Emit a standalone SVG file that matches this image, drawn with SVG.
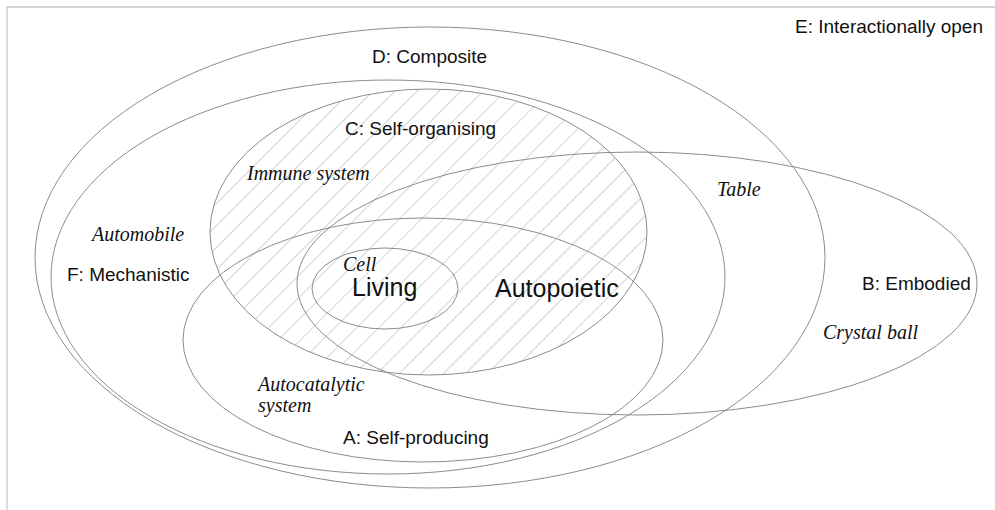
<svg xmlns="http://www.w3.org/2000/svg" width="995" height="510" viewBox="0 0 995 510">
<style>
.set{fill:none;stroke:#8c8c8c;stroke-width:1}
.lab{font-family:"Liberation Sans",Arial,sans-serif;font-size:19px;fill:#111}
.big{font-family:"Liberation Sans",Arial,sans-serif;font-size:25px;fill:#111}
.ex{font-family:"Liberation Serif","Times New Roman",serif;font-style:italic;font-size:20px;fill:#111}
.frame{stroke:#c8c8c8;stroke-width:1.3;fill:none}
</style>
<defs>
<pattern id="hatch" width="15.6" height="10" patternUnits="userSpaceOnUse" patternTransform="rotate(45)">
<line x1="0" y1="-1" x2="0" y2="11" stroke="#a8a8a8" stroke-width="1"/>
</pattern>
</defs>
<rect width="995" height="510" fill="#fff"/>
<path class="frame" d="M7,510 V7 H995"/>
<g id="E">
<text class="lab" x="795" y="33">E: Interactionally open</text>
</g>
<g id="C">
<ellipse cx="428.5" cy="232" rx="218.5" ry="143" fill="url(#hatch)" stroke="none"/>
<ellipse class="set" cx="428.5" cy="232" rx="218.5" ry="143"/>
<text class="lab" x="345" y="135">C: Self-organising</text>
<text class="ex" x="247" y="180">Immune system</text>
</g>
<g id="D">
<ellipse class="set" cx="430" cy="257.5" rx="395" ry="230.5"/>
<text class="lab" x="372" y="63">D: Composite</text>
</g>
<g id="F">
<ellipse class="set" cx="388" cy="277" rx="337" ry="197"/>
<text class="lab" x="67" y="281">F: Mechanistic</text>
<text class="ex" x="92" y="241">Automobile</text>
<text class="ex" x="717" y="196">Table</text>
</g>
<g id="A">
<ellipse class="set" cx="423" cy="340" rx="240" ry="122"/>
<text class="lab" x="343" y="444">A: Self-producing</text>
<text class="ex" x="258" y="391">Autocatalytic</text>
<text class="ex" x="258" y="412">system</text>
</g>
<g id="B">
<ellipse class="set" cx="637" cy="283.5" rx="340" ry="131.5"/>
<text class="lab" x="862" y="290">B: Embodied</text>
<text class="ex" x="823" y="339">Crystal ball</text>
</g>
<g id="Autopoietic">
<text class="big" x="495" y="297">Autopoietic</text>
</g>
<g id="Living">
<ellipse class="set" cx="385" cy="288.5" rx="73" ry="40.5"/>
<text class="big" x="352" y="296">Living</text>
<text class="ex" x="343" y="271">Cell</text>
</g>
<g id="connectors"/>
</svg>
